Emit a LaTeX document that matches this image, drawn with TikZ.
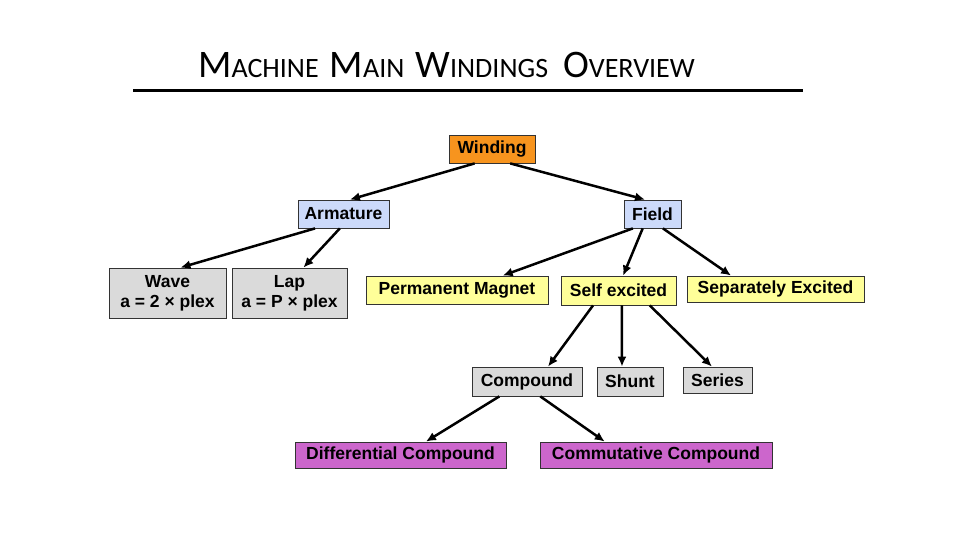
\documentclass[tikz,border=0pt]{standalone}
\usepackage{fontspec}
\setmainfont{Liberation Sans}
\newfontfamily\titlefont{Carlito}
\usetikzlibrary{calc,arrows.meta}
\definecolor{wincol}{RGB}{247,148,30}
\definecolor{armcol}{RGB}{204,218,250}
\definecolor{yelcol}{RGB}{255,255,153}
\definecolor{grycol}{RGB}{218,218,218}
\definecolor{viocol}{RGB}{204,102,204}
\tikzset{
  box/.style={draw=black!80,line width=0.8pt,fill=#1,inner sep=0pt,align=center,
    font=\fontsize{17.5}{20}\selectfont\bfseries},
  arr/.style={line width=2.5pt,-{Latex[length=10pt,width=9pt]}}
}
\newcommand\bigsc[2]{{\fontsize{39}{39}\selectfont #1}{\fontsize{28}{28}\selectfont #2}}

\begin{document}
\begin{tikzpicture}[x=1pt,y=-1pt]
    \useasboundingbox (0,0) rectangle (960,540);
    \node [anchor=base west,inner sep=0pt,font=\titlefont] (title) at (198,78)
      {\bigsc{M}{ACHINE}\hspace{11pt}\bigsc{M}{AIN}\hspace{11pt}\bigsc{W}{INDINGS}\hspace{15pt}\bigsc{O}{VERVIEW}};
    \draw [line width=3pt] (133,91) -- (803,91);

    \node [box=wincol,minimum width=86,minimum height=28] (win) at (492,149) {Winding};
    \node [box=armcol,minimum width=91,minimum height=28] (arm) at (343.5,214) {Armature};
    \node [box=armcol,minimum width=57,minimum height=28] (fld) at (652.5,214) {Field};

    \node [box=grycol,minimum width=117,minimum height=50] (wave) at (167.5,293) {Wave\\a = 2 × plex};
    \node [box=grycol,minimum width=115,minimum height=50] (lap) at (289.5,293) {Lap\\a = P × plex};

    \node [box=yelcol,minimum width=182,minimum height=28] (pm) at (457,290) {Permanent Magnet};
    \node [box=yelcol,minimum width=115,minimum height=29] (self) at (618.5,290.5) {Self excited};
    \node [box=yelcol,minimum width=177,minimum height=26] (sep) at (775.5,289) {Separately Excited};

    \node [box=grycol,minimum width=110,minimum height=29] (comp) at (527,381.5) {Compound};
    \node [box=grycol,minimum width=66,minimum height=29] (shunt) at (630,381.5) {Shunt};
    \node [box=grycol,minimum width=69,minimum height=26] (series) at (717.5,380) {Series};

    \node [box=viocol,minimum width=211,minimum height=26] (diff) at (400.5,455) {Differential Compound};
    \node [box=viocol,minimum width=232,minimum height=26] (comm) at (656,455) {Commutative Compound};

    % winding tree
    \draw [arr] ($(win.south west)!.30!(win.south east)$) -- ($(arm.north west)!.57!(arm.north east)$);
    \draw [arr] ($(win.south west)!.71!(win.south east)$) -- ($(fld.north west)!.37!(fld.north east)$);
    \draw [arr] ($(arm.south west)!.19!(arm.south east)$) -- ($(wave.north west)!.61!(wave.north east)$);
    \draw [arr] ($(arm.south west)!.46!(arm.south east)$) -- ($(lap.north west)!.62!(lap.north east)$);
    \draw [arr] ($(fld.south west)!.16!(fld.south east)$) -- ($(pm.north west)!.75!(pm.north east)$);
    \draw [arr] ($(fld.south west)!.33!(fld.south east)$) -- ($(self.north west)!.54!(self.north east)$);
    \draw [arr] ($(fld.south west)!.68!(fld.south east)$) -- ($(sep.north west)!.25!(sep.north east)$);
    \draw [arr] ($(self.south west)!.28!(self.south east)$) -- ($(comp.north west)!.69!(comp.north east)$);
    \draw [arr] ($(self.south west)!.53!(self.south east)$) -- ($(shunt.north west)!.38!(shunt.north east)$);
    \draw [arr] ($(self.south west)!.77!(self.south east)$) -- ($(series.north west)!.42!(series.north east)$);
    \draw [arr] ($(comp.south west)!.25!(comp.south east)$) -- ($(diff.north west)!.62!(diff.north east)$);
    \draw [arr] ($(comp.south west)!.62!(comp.south east)$) -- ($(comm.north west)!.28!(comm.north east)$);
\end{tikzpicture}
\end{document}
